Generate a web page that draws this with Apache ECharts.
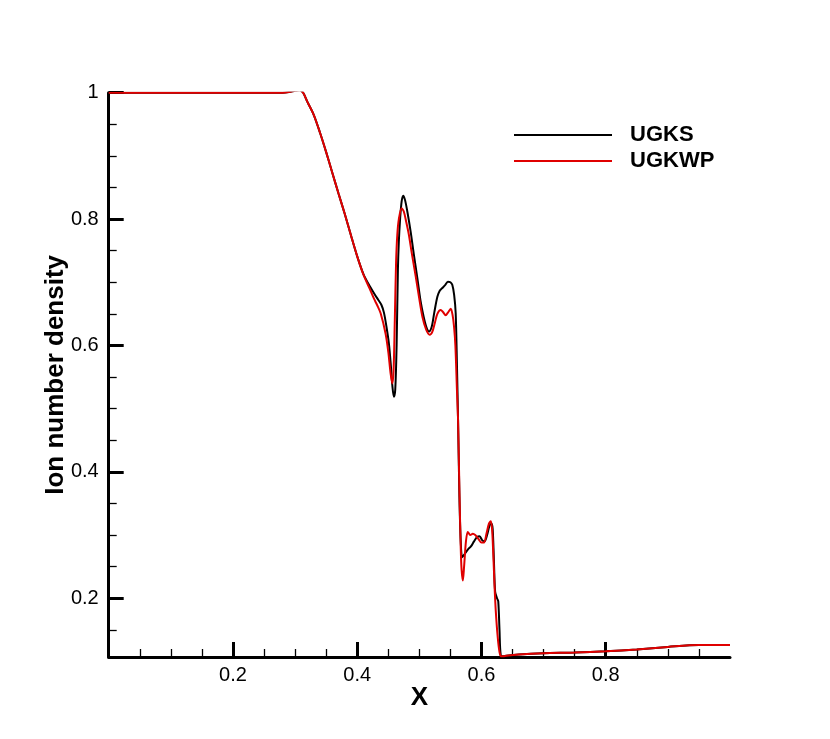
<!DOCTYPE html>
<html>
<head>
<meta charset="utf-8">
<script src="https://cdn.jsdelivr.net/npm/echarts@6/dist/echarts.min.js"></script>
<style>html,body{margin:0;padding:0;background:#fff;}#c{width:830px;height:739px;}</style>
</head>
<body>
<div id="c"></div>
<script>
var ugksX = [0,0.05,0.1,0.15,0.2,0.25,0.28,0.29,0.3,0.307,0.313,0.32,0.33,0.34,0.35,0.36,0.37,0.38,0.39,0.40,0.41,0.42,0.428,0.434,0.439,0.443,0.447,0.451,0.454,0.4565,0.459,0.4612,0.4634,0.4655,0.467,0.469,0.4715,0.474,0.477,0.481,0.486,0.491,0.497,0.502,0.507,0.511,0.5155,0.52,0.524,0.529,0.533,0.537,0.541,0.546,0.55,0.553,0.556,0.5585,0.5605,0.5623,0.5645,0.5666,0.569,0.573,0.578,0.583,0.588,0.593,0.597,0.601,0.605,0.609,0.613,0.616,0.618,0.62,0.622,0.625,0.627,0.629,0.631,0.635,0.64,0.66,0.7,0.75,0.8,0.85,0.9,0.95,1.0];
var ugksY = [1,1,1,1,1,1,1,1.001,1.003,1.004,1.0,0.985,0.965,0.937,0.906,0.873,0.84,0.808,0.774,0.741,0.713,0.694,0.681,0.672,0.664,0.652,0.63,0.603,0.57,0.537,0.519,0.53,0.6,0.72,0.765,0.8,0.828,0.837,0.83,0.81,0.78,0.745,0.705,0.67,0.645,0.63,0.622,0.63,0.652,0.677,0.687,0.691,0.695,0.701,0.7,0.696,0.68,0.651,0.57,0.482,0.36,0.29,0.265,0.27,0.277,0.282,0.29,0.297,0.298,0.292,0.29,0.3,0.315,0.318,0.31,0.26,0.21,0.2,0.195,0.15,0.11,0.108,0.109,0.111,0.113,0.114,0.116,0.119,0.123,0.126,0.126];
var ugkwpX = [0,0.05,0.1,0.15,0.2,0.25,0.28,0.29,0.3,0.307,0.313,0.32,0.33,0.34,0.35,0.36,0.37,0.38,0.39,0.40,0.41,0.42,0.427,0.432,0.4377,0.4456,0.45,0.4537,0.4565,0.4585,0.4605,0.4625,0.4645,0.467,0.4715,0.475,0.479,0.483,0.488,0.494,0.4994,0.505,0.511,0.5166,0.521,0.525,0.529,0.5344,0.538,0.5424,0.546,0.5505,0.5535,0.5558,0.558,0.5605,0.5623,0.5645,0.5666,0.568,0.57,0.572,0.575,0.578,0.582,0.586,0.59,0.595,0.6,0.604,0.608,0.612,0.615,0.617,0.619,0.621,0.623,0.626,0.629,0.632,0.635,0.64,0.66,0.7,0.75,0.8,0.85,0.9,0.95,1.0];
var ugkwpY = [1,1,1,1,1,1,1,1.001,1.003,1.004,1.0,0.985,0.965,0.937,0.906,0.873,0.84,0.808,0.774,0.741,0.712,0.69,0.674,0.664,0.651,0.619,0.59,0.556,0.54,0.56,0.64,0.73,0.775,0.8,0.817,0.812,0.795,0.776,0.745,0.71,0.677,0.645,0.625,0.617,0.622,0.636,0.65,0.656,0.653,0.648,0.652,0.658,0.648,0.63,0.6,0.53,0.482,0.37,0.28,0.245,0.228,0.25,0.29,0.305,0.3,0.302,0.3,0.294,0.288,0.288,0.302,0.318,0.322,0.31,0.27,0.22,0.18,0.14,0.115,0.108,0.108,0.109,0.111,0.113,0.114,0.116,0.119,0.123,0.126,0.126];
var xMajorTicks = [0.2,0.4,0.6,0.8];
var xMinorTicks = [0.05,0.1,0.15,0.25,0.3,0.35,0.45,0.5,0.55,0.65,0.7,0.75,0.85,0.9,0.95];
var yMajorTicks = [0.2,0.4,0.6,0.8,1];
var yMinorTicks = [0.15,0.25,0.3,0.35,0.45,0.5,0.55,0.65,0.7,0.75,0.85,0.9,0.95];

function zip(a,b){var r=[];for(var i=0;i<a.length;i++)r.push([a[i],b[i]]);return r;}
var FF = 'Liberation Sans, Arial, Helvetica, sans-serif';
var chart = echarts.init(document.getElementById('c'), null, {renderer:'canvas'});
var yMin = 0.107, yMax = 1;
chart.setOption({
  animation:false,
  backgroundColor:'#fff',
  grid:{left:108.7, right:100, top:92.7, bottom:82, containLabel:false},
  legend:{
    orient:'vertical', left:509, top:119, itemWidth:98, itemHeight:2, itemGap:4, icon:'rect',
    textStyle:{fontSize:22, fontWeight:'bold', fontFamily:FF, color:'#000', padding:[0,0,0,13]},
    data:['UGKS','UGKWP']
  },
  xAxis:[{
    type:'value', min:0, max:1, position:'bottom',
    name:'X', nameLocation:'middle', nameGap:28, nameMoveOverlap:false,
    nameTextStyle:{fontSize:26, fontWeight:'bold', fontFamily:FF, color:'#000'},
    axisLine:{show:true, onZero:false, lineStyle:{color:'#000', width:3}},
    axisTick:{show:true, inside:true, length:15, customValues:xMajorTicks, lineStyle:{color:'#000', width:3}},
    axisLabel:{show:true, customValues:xMajorTicks, margin:8, fontSize:20, fontFamily:FF, color:'#000',
      formatter:function(v){return v.toFixed(1);}},
    splitLine:{show:false}
  },{
    type:'value', min:0, max:1, position:'bottom',
    axisLine:{show:false, onZero:false},
    axisTick:{show:true, inside:true, length:8, customValues:xMinorTicks, lineStyle:{color:'#000', width:1.3}},
    axisLabel:{show:false}, splitLine:{show:false}
  }],
  yAxis:[{
    type:'value', min:yMin, max:yMax, position:'left',
    name:'Ion number density', nameLocation:'middle', nameGap:40, nameMoveOverlap:false,
    nameTextStyle:{fontSize:26, fontWeight:'bold', fontFamily:FF, color:'#000'},
    axisLine:{show:true, onZero:false, lineStyle:{color:'#000', width:3}},
    axisTick:{show:true, inside:true, length:15, customValues:yMajorTicks, lineStyle:{color:'#000', width:3}},
    axisLabel:{show:true, customValues:yMajorTicks, margin:10, fontSize:20, fontFamily:FF, color:'#000',
      formatter:function(v){return Math.abs(v-1)<1e-9?'1':v.toFixed(1);}},
    splitLine:{show:false}
  },{
    type:'value', min:yMin, max:yMax, position:'left',
    axisLine:{show:false, onZero:false},
    axisTick:{show:true, inside:true, length:8, customValues:yMinorTicks, lineStyle:{color:'#000', width:1.3}},
    axisLabel:{show:false}, splitLine:{show:false}
  }],
  series:[{
    name:'UGKS', type:'line', xAxisIndex:0, yAxisIndex:0, data:zip(ugksX,ugksY),
    showSymbol:false, smooth:0.3, clip:true,
    lineStyle:{color:'#000', width:2}, itemStyle:{color:'#000'}, z:2
  },{
    name:'UGKWP', type:'line', xAxisIndex:0, yAxisIndex:0, data:zip(ugkwpX,ugkwpY),
    showSymbol:false, smooth:0.3, clip:true,
    lineStyle:{color:'#e00000', width:2}, itemStyle:{color:'#e00000'}, z:3
  }]
});
</script>
</body>
</html>
